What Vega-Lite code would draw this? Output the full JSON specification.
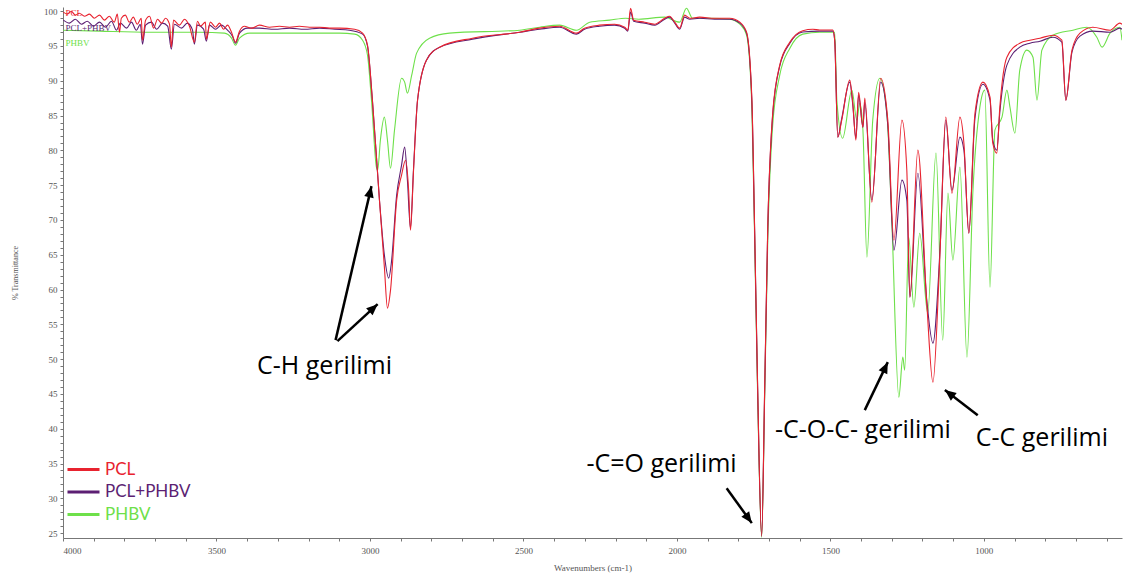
{
  "$schema": "https://vega.github.io/schema/vega-lite/v6.json",
  "width": 1059,
  "height": 531,
  "autosize": {"type": "none"},
  "padding": {"left": 63, "top": 7, "right": 7, "bottom": 43},
  "background": "white",
  "config": {
    "view": {"stroke": null},
    "axis": {
      "labelFont": "Liberation Sans Narrow",
      "labelFontSize": 9,
      "labelColor": "#555555",
      "titleFont": "Liberation Sans Narrow",
      "titleFontSize": 9,
      "titleFontWeight": "normal",
      "titleColor": "#555555",
      "domainColor": "#777777",
      "tickColor": "#777777",
      "grid": false
    }
  },
  "datasets": {
    "spectra": [
      {"s":"PCL","w":3999,"t":99.86},{"s":"PCL","w":3986,"t":99.57},{"s":"PCL","w":3973,"t":100.0},{"s":"PCL","w":3960,"t":99.43},{"s":"PCL","w":3947,"t":99.71},{"s":"PCL","w":3930,"t":99.28},{"s":"PCL","w":3914,"t":99.57},{"s":"PCL","w":3898,"t":98.99},{"s":"PCL","w":3881,"t":99.43},{"s":"PCL","w":3865,"t":98.71},{"s":"PCL","w":3849,"t":99.28},{"s":"PCL","w":3833,"t":98.42},{"s":"PCL","w":3823,"t":99.57},{"s":"PCL","w":3816,"t":96.98},{"s":"PCL","w":3810,"t":98.99},{"s":"PCL","w":3797,"t":99.43},{"s":"PCL","w":3784,"t":98.42},{"s":"PCL","w":3771,"t":99.14},{"s":"PCL","w":3758,"t":98.13},{"s":"PCL","w":3745,"t":98.99},{"s":"PCL","w":3741,"t":95.83},{"s":"PCL","w":3731,"t":98.71},{"s":"PCL","w":3718,"t":99.28},{"s":"PCL","w":3705,"t":97.56},{"s":"PCL","w":3692,"t":98.85},{"s":"PCL","w":3679,"t":98.28},{"s":"PCL","w":3666,"t":98.99},{"s":"PCL","w":3653,"t":98.13},{"s":"PCL","w":3647,"t":94.83},{"s":"PCL","w":3640,"t":98.71},{"s":"PCL","w":3621,"t":97.99},{"s":"PCL","w":3604,"t":98.85},{"s":"PCL","w":3588,"t":97.84},{"s":"PCL","w":3572,"t":95.55},{"s":"PCL","w":3562,"t":98.56},{"s":"PCL","w":3552,"t":97.84},{"s":"PCL","w":3536,"t":98.42},{"s":"PCL","w":3533,"t":95.98},{"s":"PCL","w":3520,"t":98.42},{"s":"PCL","w":3503,"t":97.7},{"s":"PCL","w":3490,"t":98.28},{"s":"PCL","w":3477,"t":97.41},{"s":"PCL","w":3464,"t":97.99},{"s":"PCL","w":3451,"t":96.98},{"s":"PCL","w":3438,"t":95.55},{"s":"PCL","w":3425,"t":97.13},{"s":"PCL","w":3409,"t":97.84},{"s":"PCL","w":3386,"t":97.56},{"s":"PCL","w":3360,"t":97.99},{"s":"PCL","w":3327,"t":97.7},{"s":"PCL","w":3295,"t":97.84},{"s":"PCL","w":3262,"t":97.7},{"s":"PCL","w":3230,"t":97.84},{"s":"PCL","w":3197,"t":97.7},{"s":"PCL","w":3164,"t":97.7},{"s":"PCL","w":3132,"t":97.56},{"s":"PCL","w":3099,"t":97.56},{"s":"PCL","w":3050,"t":97.41},{"s":"PCL","w":3024,"t":96.84},{"s":"PCL","w":3008,"t":95.11},{"s":"PCL","w":2992,"t":87.21},{"s":"PCL","w":2969,"t":72.84},{"s":"PCL","w":2953,"t":63.22},{"s":"PCL","w":2943,"t":57.33},{"s":"PCL","w":2933,"t":59.91},{"s":"PCL","w":2913,"t":72.84},{"s":"PCL","w":2897,"t":76.44},{"s":"PCL","w":2884,"t":78.59},{"s":"PCL","w":2874,"t":74.28},{"s":"PCL","w":2868,"t":68.53},{"s":"PCL","w":2858,"t":77.15},{"s":"PCL","w":2845,"t":87.21},{"s":"PCL","w":2816,"t":92.96},{"s":"PCL","w":2773,"t":94.83},{"s":"PCL","w":2666,"t":96.12},{"s":"PCL","w":2512,"t":96.98},{"s":"PCL","w":2447,"t":97.56},{"s":"PCL","w":2382,"t":97.84},{"s":"PCL","w":2327,"t":96.84},{"s":"PCL","w":2301,"t":97.56},{"s":"PCL","w":2252,"t":97.99},{"s":"PCL","w":2203,"t":98.13},{"s":"PCL","w":2170,"t":97.7},{"s":"PCL","w":2160,"t":97.27},{"s":"PCL","w":2151,"t":100.43},{"s":"PCL","w":2141,"t":98.71},{"s":"PCL","w":2105,"t":98.42},{"s":"PCL","w":2072,"t":98.13},{"s":"PCL","w":2040,"t":98.99},{"s":"PCL","w":2024,"t":99.28},{"s":"PCL","w":2007,"t":98.42},{"s":"PCL","w":1991,"t":97.56},{"s":"PCL","w":1975,"t":99.43},{"s":"PCL","w":1958,"t":98.99},{"s":"PCL","w":1926,"t":99.14},{"s":"PCL","w":1877,"t":98.99},{"s":"PCL","w":1828,"t":98.99},{"s":"PCL","w":1795,"t":98.42},{"s":"PCL","w":1773,"t":96.98},{"s":"PCL","w":1756,"t":87.64},{"s":"PCL","w":1747,"t":69.11},{"s":"PCL","w":1737,"t":45.98},{"s":"PCL","w":1724,"t":24.57},{"s":"PCL","w":1714,"t":45.98},{"s":"PCL","w":1704,"t":69.11},{"s":"PCL","w":1688,"t":85.34},{"s":"PCL","w":1665,"t":92.24},{"s":"PCL","w":1632,"t":95.55},{"s":"PCL","w":1590,"t":97.2},{"s":"PCL","w":1557,"t":97.4},{"s":"PCL","w":1535,"t":97.3},{"s":"PCL","w":1492,"t":97.3},{"s":"PCL","w":1486,"t":95.83},{"s":"PCL","w":1476,"t":81.9},{"s":"PCL","w":1463,"t":84.34},{"s":"PCL","w":1437,"t":90.09},{"s":"PCL","w":1427,"t":86.78},{"s":"PCL","w":1417,"t":81.47},{"s":"PCL","w":1408,"t":88.36},{"s":"PCL","w":1394,"t":83.33},{"s":"PCL","w":1388,"t":87.5},{"s":"PCL","w":1365,"t":72.56},{"s":"PCL","w":1336,"t":90.37},{"s":"PCL","w":1313,"t":84.34},{"s":"PCL","w":1293,"t":67.1},{"s":"PCL","w":1267,"t":84.34},{"s":"PCL","w":1251,"t":77.15},{"s":"PCL","w":1241,"t":58.91},{"s":"PCL","w":1215,"t":80.03},{"s":"PCL","w":1186,"t":58.05},{"s":"PCL","w":1166,"t":46.69},{"s":"PCL","w":1143,"t":65.23},{"s":"PCL","w":1124,"t":84.77},{"s":"PCL","w":1104,"t":73.85},{"s":"PCL","w":1078,"t":84.77},{"s":"PCL","w":1065,"t":81.03},{"s":"PCL","w":1049,"t":68.1},{"s":"PCL","w":1029,"t":85.34},{"s":"PCL","w":1003,"t":89.8},{"s":"PCL","w":980,"t":87.64},{"s":"PCL","w":971,"t":81.03},{"s":"PCL","w":958,"t":79.6},{"s":"PCL","w":948,"t":86.21},{"s":"PCL","w":925,"t":93.39},{"s":"PCL","w":883,"t":95.4},{"s":"PCL","w":850,"t":95.83},{"s":"PCL","w":817,"t":96.12},{"s":"PCL","w":775,"t":96.55},{"s":"PCL","w":746,"t":95.83},{"s":"PCL","w":733,"t":87.21},{"s":"PCL","w":713,"t":94.4},{"s":"PCL","w":687,"t":96.84},{"s":"PCL","w":645,"t":97.7},{"s":"PCL","w":589,"t":97.27},{"s":"PCL","w":557,"t":98.28},{"s":"PCL","w":550,"t":98.13},

      {"s":"PCL+PHBV","w":3999,"t":98.71},{"s":"PCL+PHBV","w":3979,"t":98.28},{"s":"PCL+PHBV","w":3960,"t":98.85},{"s":"PCL+PHBV","w":3940,"t":98.13},{"s":"PCL+PHBV","w":3921,"t":98.56},{"s":"PCL+PHBV","w":3901,"t":97.84},{"s":"PCL+PHBV","w":3881,"t":98.42},{"s":"PCL+PHBV","w":3862,"t":97.7},{"s":"PCL+PHBV","w":3842,"t":98.56},{"s":"PCL+PHBV","w":3826,"t":97.27},{"s":"PCL+PHBV","w":3813,"t":98.28},{"s":"PCL+PHBV","w":3793,"t":97.56},{"s":"PCL+PHBV","w":3777,"t":98.42},{"s":"PCL+PHBV","w":3761,"t":97.27},{"s":"PCL+PHBV","w":3748,"t":98.13},{"s":"PCL+PHBV","w":3741,"t":95.26},{"s":"PCL+PHBV","w":3731,"t":97.99},{"s":"PCL+PHBV","w":3712,"t":98.42},{"s":"PCL+PHBV","w":3695,"t":97.41},{"s":"PCL+PHBV","w":3676,"t":98.28},{"s":"PCL+PHBV","w":3659,"t":97.84},{"s":"PCL+PHBV","w":3647,"t":94.54},{"s":"PCL+PHBV","w":3637,"t":98.13},{"s":"PCL+PHBV","w":3614,"t":97.56},{"s":"PCL+PHBV","w":3595,"t":98.28},{"s":"PCL+PHBV","w":3578,"t":97.27},{"s":"PCL+PHBV","w":3572,"t":95.26},{"s":"PCL+PHBV","w":3562,"t":97.99},{"s":"PCL+PHBV","w":3542,"t":97.41},{"s":"PCL+PHBV","w":3533,"t":95.69},{"s":"PCL+PHBV","w":3523,"t":97.99},{"s":"PCL+PHBV","w":3503,"t":97.41},{"s":"PCL+PHBV","w":3484,"t":97.99},{"s":"PCL+PHBV","w":3464,"t":97.27},{"s":"PCL+PHBV","w":3448,"t":96.41},{"s":"PCL+PHBV","w":3438,"t":95.4},{"s":"PCL+PHBV","w":3425,"t":96.84},{"s":"PCL+PHBV","w":3399,"t":97.56},{"s":"PCL+PHBV","w":3360,"t":97.56},{"s":"PCL+PHBV","w":3311,"t":97.41},{"s":"PCL+PHBV","w":3262,"t":97.56},{"s":"PCL+PHBV","w":3213,"t":97.41},{"s":"PCL+PHBV","w":3164,"t":97.56},{"s":"PCL+PHBV","w":3115,"t":97.41},{"s":"PCL+PHBV","w":3067,"t":97.27},{"s":"PCL+PHBV","w":3024,"t":96.7},{"s":"PCL+PHBV","w":3008,"t":94.97},{"s":"PCL+PHBV","w":2992,"t":87.21},{"s":"PCL+PHBV","w":2969,"t":72.84},{"s":"PCL+PHBV","w":2953,"t":64.94},{"s":"PCL+PHBV","w":2939,"t":61.64},{"s":"PCL+PHBV","w":2930,"t":63.94},{"s":"PCL+PHBV","w":2913,"t":73.56},{"s":"PCL+PHBV","w":2897,"t":77.87},{"s":"PCL+PHBV","w":2887,"t":80.46},{"s":"PCL+PHBV","w":2878,"t":75.72},{"s":"PCL+PHBV","w":2868,"t":68.82},{"s":"PCL+PHBV","w":2858,"t":77.44},{"s":"PCL+PHBV","w":2845,"t":87.21},{"s":"PCL+PHBV","w":2816,"t":92.96},{"s":"PCL+PHBV","w":2773,"t":94.83},{"s":"PCL+PHBV","w":2666,"t":95.98},{"s":"PCL+PHBV","w":2512,"t":96.98},{"s":"PCL+PHBV","w":2447,"t":97.41},{"s":"PCL+PHBV","w":2382,"t":97.7},{"s":"PCL+PHBV","w":2327,"t":96.7},{"s":"PCL+PHBV","w":2301,"t":97.41},{"s":"PCL+PHBV","w":2252,"t":97.84},{"s":"PCL+PHBV","w":2203,"t":97.99},{"s":"PCL+PHBV","w":2170,"t":97.56},{"s":"PCL+PHBV","w":2160,"t":97.13},{"s":"PCL+PHBV","w":2151,"t":99.86},{"s":"PCL+PHBV","w":2141,"t":98.56},{"s":"PCL+PHBV","w":2105,"t":98.28},{"s":"PCL+PHBV","w":2072,"t":97.99},{"s":"PCL+PHBV","w":2040,"t":98.85},{"s":"PCL+PHBV","w":2024,"t":99.14},{"s":"PCL+PHBV","w":2007,"t":98.28},{"s":"PCL+PHBV","w":1991,"t":97.41},{"s":"PCL+PHBV","w":1975,"t":99.14},{"s":"PCL+PHBV","w":1958,"t":98.85},{"s":"PCL+PHBV","w":1926,"t":98.99},{"s":"PCL+PHBV","w":1877,"t":98.85},{"s":"PCL+PHBV","w":1828,"t":98.85},{"s":"PCL+PHBV","w":1795,"t":98.28},{"s":"PCL+PHBV","w":1773,"t":96.84},{"s":"PCL+PHBV","w":1756,"t":87.21},{"s":"PCL+PHBV","w":1747,"t":68.82},{"s":"PCL+PHBV","w":1737,"t":45.7},{"s":"PCL+PHBV","w":1724,"t":24.57},{"s":"PCL+PHBV","w":1714,"t":45.7},{"s":"PCL+PHBV","w":1704,"t":68.82},{"s":"PCL+PHBV","w":1688,"t":85.06},{"s":"PCL+PHBV","w":1665,"t":92.1},{"s":"PCL+PHBV","w":1632,"t":95.4},{"s":"PCL+PHBV","w":1590,"t":97.0},{"s":"PCL+PHBV","w":1535,"t":97.13},{"s":"PCL+PHBV","w":1492,"t":97.13},{"s":"PCL+PHBV","w":1486,"t":95.83},{"s":"PCL+PHBV","w":1476,"t":81.9},{"s":"PCL+PHBV","w":1463,"t":84.6},{"s":"PCL+PHBV","w":1437,"t":89.8},{"s":"PCL+PHBV","w":1427,"t":86.5},{"s":"PCL+PHBV","w":1417,"t":81.75},{"s":"PCL+PHBV","w":1408,"t":87.93},{"s":"PCL+PHBV","w":1394,"t":83.33},{"s":"PCL+PHBV","w":1388,"t":86.93},{"s":"PCL+PHBV","w":1365,"t":72.84},{"s":"PCL+PHBV","w":1336,"t":89.8},{"s":"PCL+PHBV","w":1313,"t":83.62},{"s":"PCL+PHBV","w":1293,"t":65.66},{"s":"PCL+PHBV","w":1267,"t":75.72},{"s":"PCL+PHBV","w":1251,"t":72.84},{"s":"PCL+PHBV","w":1241,"t":58.91},{"s":"PCL+PHBV","w":1215,"t":76.72},{"s":"PCL+PHBV","w":1186,"t":58.48},{"s":"PCL+PHBV","w":1166,"t":52.3},{"s":"PCL+PHBV","w":1143,"t":65.66},{"s":"PCL+PHBV","w":1124,"t":84.34},{"s":"PCL+PHBV","w":1104,"t":74.28},{"s":"PCL+PHBV","w":1078,"t":81.9},{"s":"PCL+PHBV","w":1065,"t":80.03},{"s":"PCL+PHBV","w":1049,"t":68.1},{"s":"PCL+PHBV","w":1029,"t":84.63},{"s":"PCL+PHBV","w":1003,"t":89.51},{"s":"PCL+PHBV","w":980,"t":87.21},{"s":"PCL+PHBV","w":971,"t":81.47},{"s":"PCL+PHBV","w":958,"t":80.03},{"s":"PCL+PHBV","w":948,"t":85.49},{"s":"PCL+PHBV","w":925,"t":92.24},{"s":"PCL+PHBV","w":883,"t":94.83},{"s":"PCL+PHBV","w":850,"t":95.4},{"s":"PCL+PHBV","w":817,"t":95.69},{"s":"PCL+PHBV","w":775,"t":96.26},{"s":"PCL+PHBV","w":746,"t":95.55},{"s":"PCL+PHBV","w":733,"t":87.21},{"s":"PCL+PHBV","w":713,"t":94.11},{"s":"PCL+PHBV","w":687,"t":96.41},{"s":"PCL+PHBV","w":645,"t":97.13},{"s":"PCL+PHBV","w":589,"t":96.98},{"s":"PCL+PHBV","w":557,"t":97.56},{"s":"PCL+PHBV","w":550,"t":97.41},

      {"s":"PHBV","w":3999,"t":97.27},{"s":"PHBV","w":3881,"t":97.13},{"s":"PHBV","w":3718,"t":96.98},{"s":"PHBV","w":3555,"t":96.98},{"s":"PHBV","w":3474,"t":96.84},{"s":"PHBV","w":3451,"t":96.12},{"s":"PHBV","w":3438,"t":95.11},{"s":"PHBV","w":3425,"t":96.12},{"s":"PHBV","w":3392,"t":96.84},{"s":"PHBV","w":3230,"t":96.84},{"s":"PHBV","w":3099,"t":96.84},{"s":"PHBV","w":3050,"t":96.7},{"s":"PHBV","w":3024,"t":95.83},{"s":"PHBV","w":3008,"t":93.68},{"s":"PHBV","w":2995,"t":87.21},{"s":"PHBV","w":2979,"t":77.59},{"s":"PHBV","w":2975,"t":77.15},{"s":"PHBV","w":2966,"t":81.47},{"s":"PHBV","w":2953,"t":84.77},{"s":"PHBV","w":2943,"t":81.47},{"s":"PHBV","w":2933,"t":77.44},{"s":"PHBV","w":2920,"t":82.9},{"s":"PHBV","w":2897,"t":90.37},{"s":"PHBV","w":2887,"t":89.8},{"s":"PHBV","w":2878,"t":88.22},{"s":"PHBV","w":2864,"t":90.8},{"s":"PHBV","w":2848,"t":93.97},{"s":"PHBV","w":2806,"t":96.12},{"s":"PHBV","w":2741,"t":96.84},{"s":"PHBV","w":2512,"t":97.27},{"s":"PHBV","w":2447,"t":97.7},{"s":"PHBV","w":2382,"t":97.99},{"s":"PHBV","w":2327,"t":97.27},{"s":"PHBV","w":2284,"t":98.42},{"s":"PHBV","w":2219,"t":98.71},{"s":"PHBV","w":2167,"t":98.99},{"s":"PHBV","w":2124,"t":98.85},{"s":"PHBV","w":2040,"t":99.14},{"s":"PHBV","w":1991,"t":98.42},{"s":"PHBV","w":1969,"t":100.43},{"s":"PHBV","w":1949,"t":98.99},{"s":"PHBV","w":1893,"t":98.99},{"s":"PHBV","w":1828,"t":98.85},{"s":"PHBV","w":1795,"t":98.13},{"s":"PHBV","w":1773,"t":96.55},{"s":"PHBV","w":1756,"t":86.5},{"s":"PHBV","w":1747,"t":67.8},{"s":"PHBV","w":1737,"t":44.8},{"s":"PHBV","w":1724,"t":24.4},{"s":"PHBV","w":1714,"t":44.8},{"s":"PHBV","w":1704,"t":67.1},{"s":"PHBV","w":1688,"t":83.6},{"s":"PHBV","w":1665,"t":90.8},{"s":"PHBV","w":1632,"t":94.68},{"s":"PHBV","w":1590,"t":96.7},{"s":"PHBV","w":1535,"t":96.98},{"s":"PHBV","w":1486,"t":96.98},{"s":"PHBV","w":1479,"t":87.21},{"s":"PHBV","w":1460,"t":81.75},{"s":"PHBV","w":1430,"t":88.65},{"s":"PHBV","w":1414,"t":84.34},{"s":"PHBV","w":1404,"t":86.78},{"s":"PHBV","w":1394,"t":82.9},{"s":"PHBV","w":1381,"t":64.65},{"s":"PHBV","w":1362,"t":84.34},{"s":"PHBV","w":1339,"t":90.37},{"s":"PHBV","w":1316,"t":85.34},{"s":"PHBV","w":1300,"t":69.97},{"s":"PHBV","w":1277,"t":44.54},{"s":"PHBV","w":1264,"t":50.29},{"s":"PHBV","w":1258,"t":48.42},{"s":"PHBV","w":1245,"t":67.53},{"s":"PHBV","w":1228,"t":57.47},{"s":"PHBV","w":1209,"t":68.1},{"s":"PHBV","w":1183,"t":56.61},{"s":"PHBV","w":1156,"t":79.6},{"s":"PHBV","w":1134,"t":52.73},{"s":"PHBV","w":1117,"t":73.85},{"s":"PHBV","w":1101,"t":64.22},{"s":"PHBV","w":1078,"t":77.59},{"s":"PHBV","w":1055,"t":50.29},{"s":"PHBV","w":1036,"t":73.85},{"s":"PHBV","w":1013,"t":86.21},{"s":"PHBV","w":997,"t":88.65},{"s":"PHBV","w":980,"t":60.34},{"s":"PHBV","w":964,"t":82.9},{"s":"PHBV","w":941,"t":84.77},{"s":"PHBV","w":925,"t":88.65},{"s":"PHBV","w":915,"t":86.21},{"s":"PHBV","w":899,"t":82.47},{"s":"PHBV","w":883,"t":91.52},{"s":"PHBV","w":860,"t":94.4},{"s":"PHBV","w":840,"t":93.39},{"s":"PHBV","w":827,"t":87.21},{"s":"PHBV","w":811,"t":94.4},{"s":"PHBV","w":775,"t":96.55},{"s":"PHBV","w":710,"t":97.27},{"s":"PHBV","w":664,"t":97.7},{"s":"PHBV","w":632,"t":96.26},{"s":"PHBV","w":615,"t":94.83},{"s":"PHBV","w":589,"t":96.84},{"s":"PHBV","w":557,"t":97.7},{"s":"PHBV","w":550,"t":95.83}
    ],
    "arrows": [
      {"w":3112,"t":52.73,"w2":2995,"t2":74.86},
      {"w":3106,"t":52.59,"w2":2975,"t2":57.9},
      {"w":1838,"t":31.46,"w2":1756,"t2":26.44},
      {"w":1388,"t":42.67,"w2":1313,"t2":49.57},
      {"w":1020,"t":41.95,"w2":1127,"t2":45.55}
    ],
    "notes": [
      {"label":"C-H gerilimi","w":3148,"t":48.99},
      {"label":"-C=O gerilimi","w":2050,"t":34.91},
      {"label":"-C-O-C- gerilimi","w":1394,"t":39.8},
      {"label":"C-C gerilimi","w":811,"t":38.65}
    ],
    "tags": [
      {"s":"PCL","w":3992,"t":99.7},
      {"s":"PCL+PHBV","w":3992,"t":97.6},
      {"s":"PHBV","w":3992,"t":95.4}
    ]
  },
  "encoding": {
    "x": {
      "field": "w", "type": "quantitative",
      "scale": {"domain": [4000, 550], "nice": false, "zero": false},
      "axis": {
        "title": "Wavenumbers (cm-1)",
        "values": [600,700,800,900,1000,1100,1200,1300,1400,1500,1600,1700,1800,1900,2000,2100,2200,2300,2400,2500,2600,2700,2800,2900,3000,3100,3200,3300,3400,3500,3600,3700,3800,3900,4000],
        "labelExpr": "datum.value % 500 == 0 ? datum.value : ''",
        "labelOverlap": false,
        "format": "d",
        "tickSize": 3,
        "labelPadding": 5,
        "titlePadding": 8
      }
    },
    "y": {
      "field": "t", "type": "quantitative",
      "scale": {"domain": [24.3, 100.6], "nice": false, "zero": false},
      "axis": {
        "title": "% Transmittance",
        "titleFontSize": 8,
        "values": [25,26,27,28,29,30,31,32,33,34,35,36,37,38,39,40,41,42,43,44,45,46,47,48,49,50,51,52,53,54,55,56,57,58,59,60,61,62,63,64,65,66,67,68,69,70,71,72,73,74,75,76,77,78,79,80,81,82,83,84,85,86,87,88,89,90,91,92,93,94,95,96,97,98,99,100],
        "labelExpr": "datum.value % 5 == 0 ? datum.value : ''",
        "labelOverlap": false,
        "tickSize": 3,
        "labelPadding": 3,
        "titlePadding": 24
      }
    }
  },
  "layer": [
    {
      "data": {"name": "spectra"},
      "transform": [{"filter": "datum.s == 'PHBV'"}],
      "mark": {"type": "line", "strokeWidth": 1.1, "clip": true, "interpolate": "monotone"},
      "encoding": {
        "color": {"field": "s", "type": "nominal",
          "scale": {"domain": ["PCL", "PCL+PHBV", "PHBV"], "range": ["#e8232f", "#5c1f73", "#6ee04a"]},
          "legend": {
            "title": null, "orient": "none", "legendX": 12, "legendY": 454,
            "symbolType": "M-3.2,0L3.2,0", "symbolSize": 100, "symbolStrokeWidth": 3,
            "labelFont": "Lato", "labelFontSize": 17, "labelOffset": 13, "rowPadding": 4.5,
            "encode": {"labels": {"update": {"fill": {"scale": "color", "field": "value"}}}}
          }
        }
      }
    },
    {
      "data": {"name": "spectra"},
      "transform": [{"filter": "datum.s == 'PCL+PHBV'"}],
      "mark": {"type": "line", "strokeWidth": 1.1, "clip": true, "interpolate": "monotone"},
      "encoding": {"color": {"field": "s", "type": "nominal"}}
    },
    {
      "data": {"name": "spectra"},
      "transform": [{"filter": "datum.s == 'PCL'"}],
      "mark": {"type": "line", "strokeWidth": 1.1, "clip": true, "interpolate": "monotone"},
      "encoding": {"color": {"field": "s", "type": "nominal"}}
    },
    {
      "data": {"name": "tags"},
      "mark": {"type": "text", "align": "left", "baseline": "middle", "font": "Liberation Sans Narrow", "fontSize": 9},
      "encoding": {"text": {"field": "s"}, "color": {"field": "s", "type": "nominal", "legend": null}}
    },
    {
      "data": {"name": "arrows"},
      "mark": {"type": "rule", "color": "black", "strokeWidth": 2.5},
      "encoding": {"x2": {"field": "w2"}, "y2": {"field": "t2"}}
    },
    {
      "data": {"name": "arrows"},
      "transform": [{"calculate": "atan2(-(datum.w2 - datum.w) * 0.3068, (datum.t2 - datum.t) * 6.96) * 180 / PI", "as": "ang"}],
      "mark": {"type": "point", "filled": true, "color": "black", "opacity": 1, "shape": "M0,0L0.6,1.4L-0.6,1.4Z", "size": 256},
      "encoding": {
        "x": {"field": "w2", "type": "quantitative"},
        "y": {"field": "t2", "type": "quantitative"},
        "angle": {"field": "ang", "type": "quantitative", "scale": null}
      }
    },
    {
      "data": {"name": "notes"},
      "mark": {"type": "text", "font": "Open Sans", "fontSize": 25, "color": "black", "align": "center", "baseline": "middle"},
      "encoding": {"text": {"field": "label"}}
    }
  ]
}
